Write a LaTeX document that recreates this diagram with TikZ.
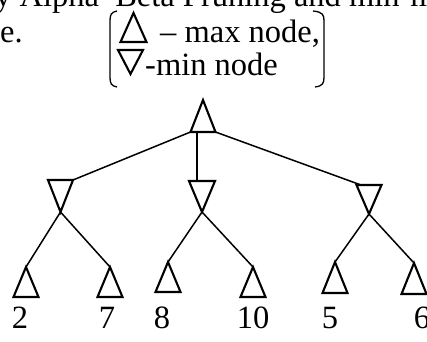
\documentclass[tikz,border=0pt]{standalone}
\usepackage{fontspec}
\setmainfont{Liberation Serif}
\begin{document}
\begin{tikzpicture}[x=1pt,y=-1pt,
  tri/.style={line width=2.1pt,line join=miter},
  edge/.style={line width=1.5pt},
  brk/.style={line width=1.3pt},
  txt/.style={anchor=base west,inner sep=0pt,font=\fontsize{32.5}{35}\selectfont},
  num/.style={anchor=base,inner sep=0pt,font=\fontsize{32.5}{35}\selectfont}]
\useasboundingbox (0,0) rectangle (427,341);
\clip (0,0) rectangle (427,341);
% header text
\node[txt] (top) at (-5,6) {y Alpha–Beta Pruning and min-max};
\node[txt] (e) at (0,42) {e.};
\node[txt] (maxl) at (160,42) {– max node,};
\node[txt] (minl) at (145,75) {-min node};
% legend triangles
\coordinate (lu) at (133.5,13);
\coordinate (ld) at (130.5,74);
\draw[tri] (lu) -- ++(-13,29) -- ++(26,0) -- cycle;
\draw[tri] (ld) -- ++(-12.5,-24) -- ++(25,0) -- cycle;
% brackets
\draw[brk] (117,11) .. controls (111,12) and (110,15) .. (110,21) -- (110,77) .. controls (110,83) and (111,86) .. (117,87);
\draw[brk] (313,11) .. controls (323,12) and (324,15) .. (324,21) -- (324,77) .. controls (324,83) and (323,86) .. (315,87);
% tree nodes (apex coordinates)
\coordinate (root) at (203,100);
\coordinate (mL) at (60.5,212);
\coordinate (mM) at (202,212);
\coordinate (mR) at (369,214);
\coordinate (a1) at (26,267);
\coordinate (a2) at (110,267);
\coordinate (a3) at (168,262);
\coordinate (a4) at (253,267);
\coordinate (a5) at (335,262);
\coordinate (a6) at (414,263);
% triangles
\draw[tri] (root) -- ++(-12.5,32) coordinate (rootBL) -- ++(25,0) coordinate (rootBR) -- cycle;
\draw[tri] (mL) -- ++(-12.5,-32) -- ++(25,0) coordinate (mLTR) -- cycle;
\draw[tri] (mM) -- ++(-13,-31) -- ++(26,0) -- cycle;
\draw[tri] (mR) -- ++(-12.5,-29) coordinate (mRTL) -- ++(25,0) -- cycle;
\draw[tri] (a1) -- ++(-12.5,30) -- ++(25,0) -- cycle;
\draw[tri] (a2) -- ++(-12.5,30) -- ++(25,0) -- cycle;
\draw[tri] (a3) -- ++(-12.5,30) -- ++(25,0) -- cycle;
\draw[tri] (a4) -- ++(-12.5,30) -- ++(25,0) -- cycle;
\draw[tri] (a5) -- ++(-12.5,31) -- ++(25,0) -- cycle;
\draw[tri] (a6) -- ++(-12.5,31) -- ++(25,0) -- cycle;
% edges
\coordinate (vtop) at (197,132);
\coordinate (vbot) at (197,181);
\coordinate (rR) at (361,185);
\draw[edge] (rootBL) -- (mLTR);
\draw[edge] (vtop) -- (vbot);
\draw[edge] (rootBR) -- (rR);
\draw[edge] (mL) -- (a1);
\draw[edge] (mL) -- (a2);
\draw[edge] (mM) -- (a3);
\draw[edge] (mM) -- (a4);
\draw[edge] (mR) -- (a5);
\draw[edge] (mR) -- (a6);
% leaf values
\node[num] (v1) at (20,328) {2};
\node[num] (v2) at (107,328) {7};
\node[num] (v3) at (162,328) {8};
\node[num] (v4) at (253,328) {10};
\node[num] (v5) at (330,328) {5};
\node[num] (v6) at (422,328) {6};
\end{tikzpicture}
\end{document}
